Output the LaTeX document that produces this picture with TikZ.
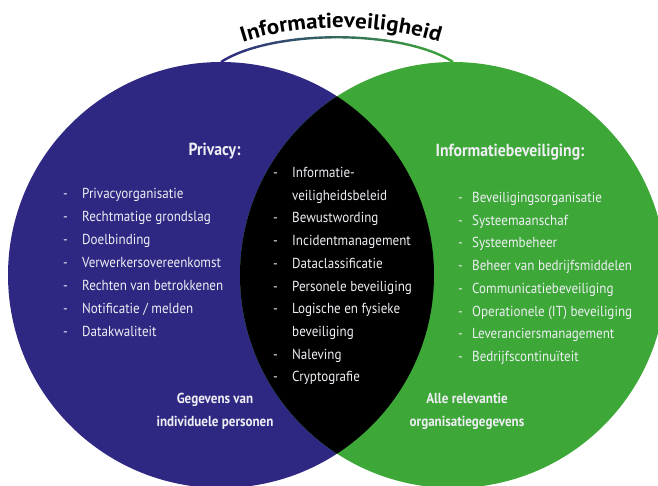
\documentclass[tikz,border=0pt]{standalone}
\usepackage{fontspec}
\setmainfont{PT Sans}[FakeStretch=0.9]
\newfontfamily\titlefont{PT Sans}[FakeStretch=1.07]
\usetikzlibrary{decorations.text}
\definecolor{cblue}{RGB}{46,40,130}
\definecolor{cgreen}{RGB}{61,168,56}
\definecolor{ctxt}{RGB}{238,238,244}
\newcommand\dashitem[2]{\makebox[#1][l]{-}#2}
\tikzset{
  item/.style={anchor=base west, inner sep=0pt, text=ctxt, font=\fontsize{14.5}{16}\selectfont},
  head/.style={anchor=base, inner sep=0pt, text=ctxt, font=\bfseries\fontsize{17.5}{20}\selectfont},
  foot/.style={anchor=center, inner sep=0pt, align=center, text=ctxt, font=\bfseries\fontsize{14.5}{23}\selectfont},
  arcline/.style={line width=2.4pt},
}
\begin{document}
\begin{tikzpicture}[x=1pt,y=-1pt]
\useasboundingbox (0,0) rectangle (658,485);
% gradient arc
\foreach \i in {0,...,23}{
  \pgfmathsetmacro\p{\i*100/23}
  \begin{scope}
    \clip (215+\i*10,0) rectangle ++(10.6,80);
    \draw[arcline, draw=cgreen!\p!cblue] (221,62) .. controls (272,29) and (402,29) .. (453,62);
  \end{scope}
}
% circles
\begin{scope}
  \clip (0,0) rectangle (658,485);
  \fill[cblue] (221,275) circle (213pt);
  \fill[cgreen] (453,275) circle (213pt);
  \begin{scope}
    \clip (221,275) circle (213pt);
    \fill[black] (453,275) circle (213pt);
  \end{scope}
\end{scope}
% title
\path[decorate, decoration={text along path, text align=center,
  text={|\titlefont\bfseries\fontsize{21.5}{23}\selectfont|Informatieveiligheid}}]
  (234,45) .. controls (298,22) and (382,22) .. (448,45);
% headers
\node[head] (hp) at (214.5,155) {Privacy:};
\node[head] (hi) at (510,156) {Informatiebeveiliging:};
% left list
\node[item] (l1) at (63,198.5) {\dashitem{19pt}{Privacyorganisatie}};
\node[item] (l2) at (63,221.5) {\dashitem{19pt}{Rechtmatige grondslag}};
\node[item] (l3) at (63,244.5) {\dashitem{19pt}{Doelbinding}};
\node[item] (l4) at (63,267.5) {\dashitem{19pt}{Verwerkersovereenkomst}};
\node[item] (l5) at (63,290.5) {\dashitem{19pt}{Rechten van betrokkenen}};
\node[item] (l6) at (63,313.5) {\dashitem{19pt}{Notificatie / melden}};
\node[item] (l7) at (63,336.5) {\dashitem{19pt}{Datakwaliteit}};
% middle list
\node[item] (m1) at (273,177.5) {\dashitem{19pt}{Informatie-}};
\node[item] (m1b) at (292,200.2) {veiligheidsbeleid};
\node[item] (m2) at (273,222.9) {\dashitem{19pt}{Bewustwording}};
\node[item] (m3) at (273,245.6) {\dashitem{19pt}{Incidentmanagement}};
\node[item] (m4) at (273,268.3) {\dashitem{19pt}{Dataclassificatie}};
\node[item] (m5) at (273,291.0) {\dashitem{19pt}{Personele beveiliging}};
\node[item] (m6) at (273,313.7) {\dashitem{19pt}{Logische en fysieke}};
\node[item] (m6b) at (292,336.4) {beveiliging};
\node[item] (m7) at (273,359.1) {\dashitem{19pt}{Naleving}};
\node[item] (m8) at (273,381.8) {\dashitem{19pt}{Cryptografie}};
% right list
\node[item] (r1) at (458,202.5) {\dashitem{14pt}{Beveiligingsorganisatie}};
\node[item] (r2) at (458,225.2) {\dashitem{14pt}{Systeemaanschaf}};
\node[item] (r3) at (458,247.9) {\dashitem{14pt}{Systeembeheer}};
\node[item] (r4) at (458,270.6) {\dashitem{14pt}{Beheer van bedrijfsmiddelen}};
\node[item] (r5) at (458,293.3) {\dashitem{14pt}{Communicatiebeveiliging}};
\node[item] (r6) at (458,316.0) {\dashitem{14pt}{Operationele (IT) beveiliging}};
\node[item] (r7) at (458,338.7) {\dashitem{14pt}{Leveranciersmanagement}};
\node[item] (r8) at (458,361.4) {\dashitem{14pt}{Bedrijfscontinuïteit}};
% bottom labels
\node[foot] (fl) at (215,411) {Gegevens van\\individuele personen};
\node[foot] (fr) at (467,411) {Alle relevantie\\organisatiegegevens};
\end{tikzpicture}
\end{document}
